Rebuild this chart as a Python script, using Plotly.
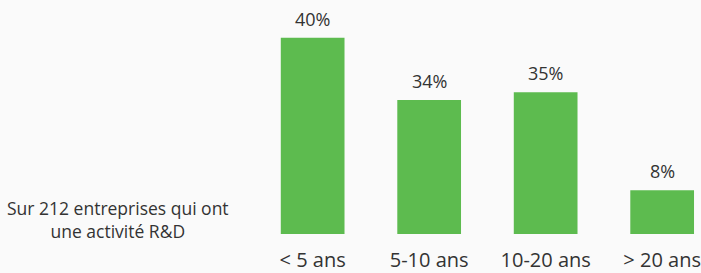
import plotly.graph_objects as go

categories = ["< 5 ans", "5-10 ans", "10-20 ans", "> 20 ans"]
# bar heights as drawn in the picture (arbitrary units, 40 = first bar)
values = [40, 27.3, 28.9, 8.9]
labels = ["40%", "34%", "35%", "8%"]
note = "Sur 212 entreprises qui ont<br>une activité R&D"

FONT = "Open Sans"
TXT = "#333333"
GREEN = "#5DBB4F"
BG = "#FAFAFA"

fig = go.Figure()
fig.add_trace(go.Bar(
    x=categories, y=values, marker=dict(color=GREEN, line=dict(width=0)),
    width=0.547, hoverinfo="skip",
))

for c, v, t in zip(categories, values, labels):
    fig.add_annotation(x=c, y=v, text=t, showarrow=False, yanchor="bottom",
                       xanchor="center", yshift=5,
                       font=dict(family=FONT, size=18, color=TXT))

fig.add_annotation(xref="paper", yref="paper", x=119/701, y=(236-221)/236,
                   xanchor="center", yanchor="middle",
                   text=note, showarrow=False, align="center",
                   font=dict(family=FONT, size=17.5, color=TXT))

fig.update_layout(
    width=701, height=273,
    margin=dict(l=0, r=0, t=0, b=37, pad=0),
    paper_bgcolor=BG, plot_bgcolor=BG,
    showlegend=False,
    xaxis=dict(range=[-314/117, (701-314)/117], showgrid=False, zeroline=False,
               showline=False, ticks="", tickfont=dict(family=FONT, size=20, color=TXT),
               ticklabelstandoff=12),
    yaxis=dict(range=[0, 236/4.95], visible=False),
)

fig.write_html("out.html", config={"displayModeBar": False},
               post_script="document.body.style.margin='0px';document.body.style.overflow='hidden';")
